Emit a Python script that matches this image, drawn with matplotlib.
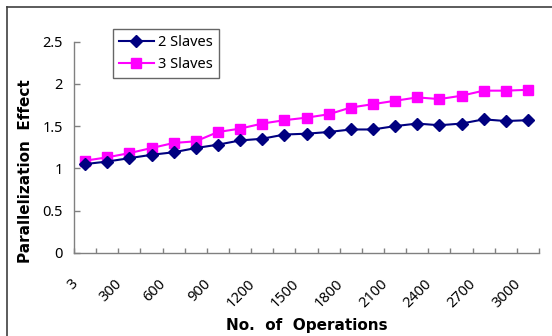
import numpy as np
import matplotlib
matplotlib.use('Agg')
import matplotlib.pyplot as plt
from matplotlib.lines import Line2D
import matplotlib.transforms as mtransforms


# ─── Data ────────────────────────────────────────────────────────────────────
operations = [3, 150, 300, 450, 600, 750, 900, 1050, 1200, 1350, 1500,
              1650, 1800, 1950, 2100, 2250, 2400, 2550, 2700, 2850, 3000]
slaves_2 = [1.05, 1.08, 1.12, 1.16, 1.19, 1.24, 1.28, 1.33, 1.35, 1.40, 1.41,
            1.43, 1.46, 1.46, 1.50, 1.53, 1.51, 1.53, 1.58, 1.56, 1.57]
slaves_3 = [1.09, 1.13, 1.18, 1.24, 1.30, 1.32, 1.43, 1.47, 1.53, 1.57, 1.60,
            1.64, 1.72, 1.76, 1.80, 1.84, 1.82, 1.86, 1.92, 1.92, 1.93]
y_ticks = [0, 0.5, 1, 1.5, 2, 2.5]

W, H = 552, 336
AXIS_GRAY = '#808080'
TICK_FONT = 'Noto Sans'
TITLE_FONT = 'DejaVu Sans'


def plot_parallelization(save_path='out.png'):
    """Parallelization effect vs number of operations, Excel-style line chart."""
    fig = plt.figure(figsize=(W / 100, H / 100), dpi=100)
    fig.patch.set_facecolor('white')

    # plot area in pixel terms (left, right, top, bottom)
    left, right, top, bottom = 74, 539, 41.7, 252.7
    ax = fig.add_axes([left / W, 1 - bottom / H,
                       (right - left) / W, (bottom - top) / H])

    x = np.arange(len(operations))
    ax.plot(x, slaves_2, color='#000080', marker='D', markersize=6.5,
            linewidth=1.5, label='2 Slaves', zorder=3)
    ax.plot(x, slaves_3, color='#FF00FF', marker='s', markersize=7,
            linewidth=1.5, label='3 Slaves', zorder=2)

    # ─── Axes ─────────────────────────────────────────────────────────────
    ax.set_xlim(-0.5, len(operations) - 0.5)
    ax.set_ylim(0, 2.5)
    for side in ['top', 'right']:
        ax.spines[side].set_visible(False)
    for side in ['left', 'bottom']:
        ax.spines[side].set_color(AXIS_GRAY)
        ax.spines[side].set_linewidth(1.0)

    ax.set_yticks(y_ticks)
    ax.set_yticklabels([f'{v:g}' for v in y_ticks], fontfamily=TICK_FONT,
                       fontsize=10.5)
    ax.tick_params(axis='y', direction='in', length=4.5, width=1,
                   color=AXIS_GRAY, pad=8)

    # category boundaries carry the tick marks, labels sit on every 2nd point
    ax.set_xticks(np.arange(-0.5, len(operations)), minor=True)
    ax.tick_params(axis='x', which='minor', direction='in', length=3.5,
                   width=1, color=AXIS_GRAY)
    ax.set_xticks(x[::2])
    ax.set_xticklabels([str(v) for v in operations[::2]], rotation=45,
                       ha='right', va='top', rotation_mode='anchor',
                       fontfamily=TICK_FONT, fontsize=10.5)
    ax.tick_params(axis='x', which='major', length=0, pad=17)
    shift = mtransforms.ScaledTranslation(-15 / 100, 0, fig.dpi_scale_trans)
    for lbl in ax.get_xticklabels():
        lbl.set_transform(lbl.get_transform() + shift)

    ax.set_ylabel('Parallelization  Effect', fontsize=11, fontweight='bold',
                  fontfamily=TITLE_FONT)
    ax.yaxis.set_label_coords(-0.088, 0.387)
    ax.set_xlabel('No.  of  Operations', fontsize=11, fontweight='bold',
                  fontfamily=TITLE_FONT)
    ax.xaxis.set_label_coords(0.5, -0.31)

    # ─── Legend ───────────────────────────────────────────────────────────
    leg = ax.legend(loc='upper left', bbox_to_anchor=((113 - left) / (right - left),
                                                      (bottom - 29) / (bottom - top)),
                    prop={'family': TICK_FONT, 'size': 10.5}, frameon=True,
                    fancybox=False, handlelength=2.4, handletextpad=0.3,
                    borderpad=0.4, labelspacing=0.5, borderaxespad=0)
    leg.get_frame().set_edgecolor('#404040')
    leg.get_frame().set_linewidth(1.0)

    # ─── Outer chart frame (only top/left edges are in view) ──────────────
    fig.add_artist(Line2D([7 / W, 7 / W], [0, 1 - 7 / H], color='#404040',
                          linewidth=1.2, transform=fig.transFigure))
    fig.add_artist(Line2D([7 / W, 1], [1 - 7 / H, 1 - 7 / H], color='#404040',
                          linewidth=1.2, transform=fig.transFigure))

    fig.savefig(save_path, dpi=100)
    plt.close(fig)


if __name__ == '__main__':
    plot_parallelization()
